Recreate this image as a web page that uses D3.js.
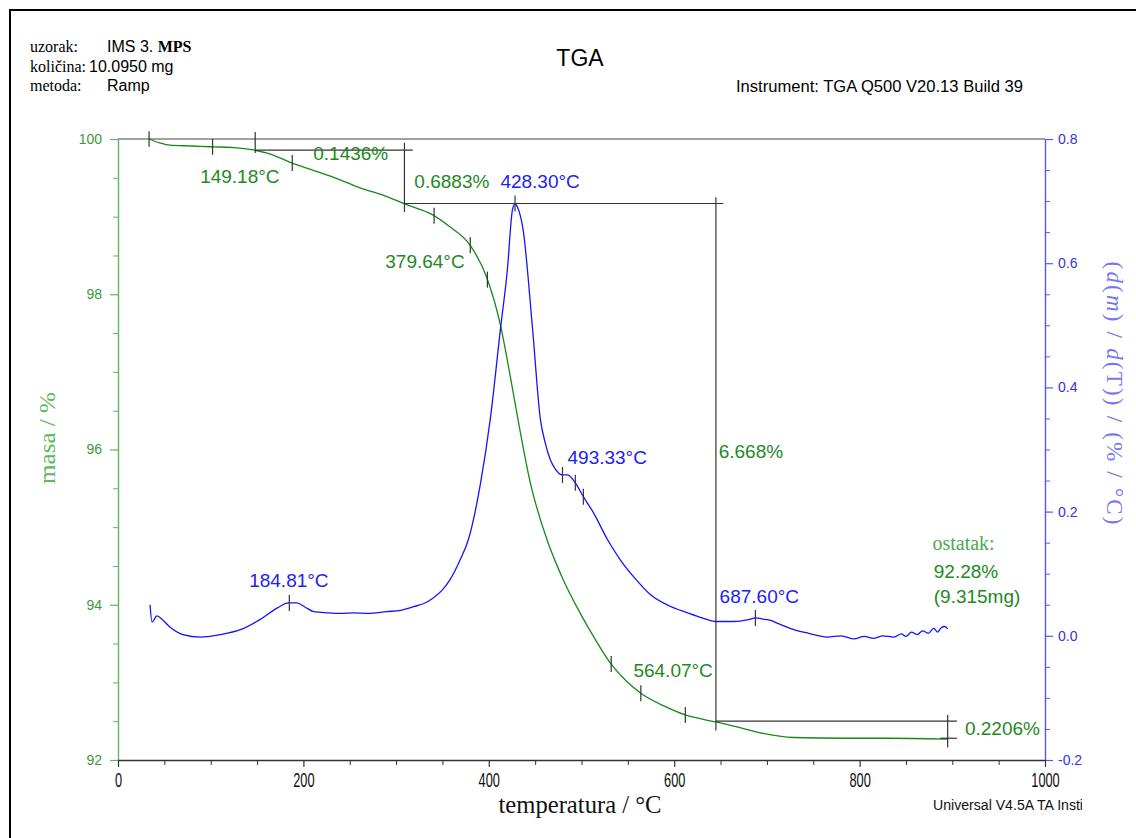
<!DOCTYPE html>
<html><head><meta charset="utf-8">
<script src="https://cdn.jsdelivr.net/npm/d3@7"></script>
<style>body{margin:0;background:#fff}</style>
</head><body>
<script>
// ---------- data ----------
const tgaTemp = [33.5, 45, 56, 80, 99, 125, 146, 160, 170, 188, 210, 232, 261, 285, 310, 340, 358, 380, 398, 413, 422, 431, 445, 463, 477, 500, 515, 531, 548, 564, 590, 612, 645, 670, 693, 729, 780, 830, 895];
const tgaMass = [100.0, 99.95, 99.92, 99.91, 99.90, 99.89, 99.86, 99.82, 99.78, 99.69, 99.60, 99.51, 99.37, 99.28, 99.16, 99.02, 98.87, 98.63, 98.21, 97.58, 97.02, 96.42, 95.56, 94.83, 94.41, 93.86, 93.55, 93.25, 93.02, 92.86, 92.69, 92.58, 92.49, 92.42, 92.35, 92.29, 92.28, 92.28, 92.27];

const dtgTemp = [34.6, 36.7, 42, 48, 56, 70, 89, 110, 132, 153, 172, 184, 193, 202, 211, 226, 240, 254, 270, 290, 305, 319, 330, 340, 350, 358, 369, 378, 391, 401.7, 412.5, 420, 425.5, 428.3, 431, 437, 447, 455.7, 461, 466.5, 472, 479.5, 485, 493.5, 502, 513, 528, 542, 558, 574.5, 595, 614.5, 630, 645, 664, 680, 688, 695, 701, 715, 729, 745, 765, 780, 794, 805, 815, 825, 837, 845, 850, 856, 862, 868, 874, 880, 884, 888, 892, 895];
const dtgValue = [0.050, 0.022, 0.032, 0.026, 0.014, 0.002, -0.002, 0.002, 0.010, 0.026, 0.045, 0.053, 0.053, 0.046, 0.039, 0.037, 0.036, 0.037, 0.036, 0.039, 0.041, 0.047, 0.052, 0.061, 0.074, 0.090, 0.122, 0.155, 0.245, 0.350, 0.493, 0.589, 0.686, 0.696, 0.690, 0.654, 0.498, 0.348, 0.310, 0.283, 0.268, 0.259, 0.259, 0.246, 0.224, 0.198, 0.155, 0.122, 0.092, 0.066, 0.048, 0.037, 0.029, 0.023, 0.023, 0.026, 0.029, 0.027, 0.026, 0.018, 0.010, 0.004, -0.002, 0.000, -0.005, -0.001, -0.004, 0.000, -0.002, 0.003, -0.001, 0.006, 0.002, 0.008, 0.004, 0.012, 0.006, 0.013, 0.015, 0.011];

const xTicks = [0, 200, 400, 600, 800, 1000];
const massTicks = [92, 94, 96, 98, 100];
const derivTicks = [-0.2, 0.0, 0.2, 0.4, 0.6, 0.8];

// step-analysis annotations (data units)
const stepH = [[148, 318, 99.857], [309, 653, 99.169], [645, 905, 92.501], [887, 905, 92.28]];
const stepV = [[33.5, 100.10, 99.90], [148, 100.09, 99.82], [309, 99.95, 99.06], [645, 99.25, 92.38], [895, 92.58, 92.16]];
const greenMarkers = [102, 188, 341, 380, 398.5, 532, 564, 612];
const blueMarkers = [184.81, 428.30, 479.5, 493.33, 502, 687.60];

const massLabels = [
  ["149.18°C", 88.6, 99.433], ["0.1436%", 210.6, 99.73], ["0.6883%", 319.7, 99.37],
  ["379.64°C", 288.3, 98.34], ["6.668%", 648, 95.89], ["564.07°C", 556, 93.07],
  ["0.2206%", 913.6, 92.32], ["92.28%", 880, 94.34], ["(9.315mg)", 880, 94.02]
];
const derivLabels = [
  ["428.30°C", 412.5, 0.7211], ["493.33°C", 484.9, 0.2766],
  ["184.81°C", 141.5, 0.0786], ["687.60°C", 649, 0.0528]
];

// ---------- drawing ----------
const W = 1136, H = 838;
const SANS = "'Liberation Sans', Arial, sans-serif";
const SERIF = "'Liberation Serif', 'Times New Roman', serif";

const svg = d3.select("body").append("svg").attr("width", W).attr("height", H)
  .style("font-family", SANS);

const x = d3.scaleLinear().domain([0, 1000]).range([118, 1045]);
const yM = d3.scaleLinear().domain([92, 100]).range([760, 139]);
const yD = d3.scaleLinear().domain([-0.2, 0.8]).range([760, 139]);

// outer frame
svg.append("rect").attr("x", 10).attr("y", 10).attr("width", 1150).attr("height", 850)
  .attr("fill", "none").attr("stroke", "#000").attr("stroke-width", 2);

// header
const hdr = [["uzorak:", 52], ["količina:", 72], ["metoda:", 91]];
hdr.forEach(([t, yy]) => svg.append("text").attr("x", 30).attr("y", yy)
  .style("font-family", SERIF).style("font-size", "16px").text(t));
const l1 = svg.append("text").attr("x", 107).attr("y", 52).style("font-size", "16px");
l1.append("tspan").text("IMS 3. ");
l1.append("tspan").style("font-family", SERIF).style("font-weight", "bold").text("MPS");
svg.append("text").attr("x", 89).attr("y", 72).style("font-size", "16px").text("10.0950 mg");
svg.append("text").attr("x", 107).attr("y", 91).style("font-size", "16px").text("Ramp");
svg.append("text").attr("x", 580).attr("y", 66).attr("text-anchor", "middle")
  .style("font-size", "23px").text("TGA");
svg.append("text").attr("x", 736).attr("y", 92).style("font-size", "16px")
  .attr("textLength", 287).attr("lengthAdjust", "spacingAndGlyphs")
  .text("Instrument: TGA Q500 V20.13 Build 39");

// top frame line (100 %)
svg.append("line").attr("x1", x(0)).attr("x2", x(1000)).attr("y1", yM(100)).attr("y2", yM(100))
  .attr("stroke", "#444").attr("stroke-width", 1.2);

// axes
function styleAxis(g, lineColor, textColor, size) {
  g.select(".domain").attr("stroke", lineColor).attr("stroke-width", 1.4);
  g.selectAll(".tick line").attr("stroke", lineColor).attr("stroke-width", 1.2);
  g.selectAll("text").attr("fill", textColor).style("font-family", SANS).style("font-size", size);
}
// left
const gl = svg.append("g").attr("transform", `translate(${x(0)},0)`)
  .call(d3.axisLeft(yM).tickValues(massTicks).tickSize(8).tickSizeOuter(0).tickPadding(8).tickFormat(d3.format("d")));
styleAxis(gl, "#5cb85c", "#3a9a3a", "14px");
svg.append("g").attr("transform", `translate(${x(0)},0)`)
  .call(d3.axisLeft(yM).tickValues(d3.range(92.5, 100, 0.5).filter(v => v % 2 !== 0)).tickSize(5).tickFormat(""))
  .call(g => { g.select(".domain").remove(); g.selectAll("line").attr("stroke", "#5cb85c"); });
// right
const gr = svg.append("g").attr("transform", `translate(${x(1000)},0)`)
  .call(d3.axisRight(yD).tickValues(derivTicks).tickSize(8).tickSizeOuter(0).tickPadding(5).tickFormat(d => d.toFixed(1)));
styleAxis(gr, "#5555ff", "#3333dd", "14px");
svg.append("g").attr("transform", `translate(${x(1000)},0)`)
  .call(d3.axisRight(yD).tickValues(d3.range(-0.15, 0.8, 0.05).filter(v => Math.abs(Math.round(v * 100) % 20) !== 0)).tickSize(5).tickFormat(""))
  .call(g => { g.select(".domain").remove(); g.selectAll("line").attr("stroke", "#5555ff"); });
// bottom
const gb = svg.append("g").attr("transform", `translate(0,${yM(92)})`)
  .call(d3.axisBottom(x).tickValues(xTicks).tickSize(7).tickSizeOuter(0).tickPadding(4).tickFormat(d3.format("d")));
styleAxis(gb, "#333", "#111", "16px");
gb.selectAll(".tick text").attr("transform", "scale(0.8,1.22)");
svg.append("g").attr("transform", `translate(0,${yM(92)})`)
  .call(d3.axisBottom(x).tickValues(d3.range(50, 1000, 50).filter(v => v % 200 !== 0)).tickSize(5).tickFormat(""))
  .call(g => { g.select(".domain").remove(); g.selectAll("line").attr("stroke", "#333"); });

// axis titles
svg.append("text").attr("transform", "translate(55,438) rotate(-90)").attr("text-anchor", "middle")
  .style("font-family", SERIF).style("font-size", "23px").attr("fill", "#5cb85c")
  .attr("textLength", 92).attr("lengthAdjust", "spacingAndGlyphs").text("masa / %");
svg.append("text").attr("x", 580).attr("y", 813).attr("text-anchor", "middle")
  .style("font-family", SERIF).style("font-size", "26px").attr("fill", "#111")
  .attr("textLength", 163).attr("lengthAdjust", "spacingAndGlyphs").text("temperatura / °C");
const rt = svg.append("text").attr("transform", "translate(1107,393) rotate(90)").attr("text-anchor", "middle")
  .style("font-family", SERIF).style("font-size", "23px").attr("fill", "#7777ee")
  .attr("textLength", 263).attr("lengthAdjust", "spacing");
[["(", 0], ["d", 1], ["(", 0], ["m", 1], [") / ", 0], ["d", 1], ["(", 0], ["T", 0], [")) / (% / °C)", 0]]
  .forEach(([t, it]) => rt.append("tspan").style("font-style", it ? "italic" : "normal").text(t));

// curves
const lineM = d3.line().x((d, i) => x(tgaTemp[i])).y(d => yM(d)).curve(d3.curveMonotoneX);
svg.append("path").attr("d", lineM(tgaMass)).attr("fill", "none").attr("stroke", "#168a16").attr("stroke-width", 1.3);
const lineD = d3.line().x((d, i) => x(dtgTemp[i])).y(d => yD(d)).curve(d3.curveMonotoneX);
svg.append("path").attr("d", lineD(dtgValue)).attr("fill", "none").attr("stroke", "#1414ff").attr("stroke-width", 1.3);

// step annotation lines
const ann = svg.append("g").attr("stroke", "#333").attr("stroke-width", 1.2);
stepH.forEach(([t1, t2, m]) => ann.append("line").attr("x1", x(t1)).attr("x2", x(t2)).attr("y1", yM(m)).attr("y2", yM(m)));
stepV.forEach(([t, m1, m2]) => ann.append("line").attr("x1", x(t)).attr("x2", x(t)).attr("y1", yM(m1)).attr("y2", yM(m2)));

function interp(ts, vs, t) {
  const i = Math.max(1, Math.min(ts.length - 1, d3.bisectRight(ts, t)));
  const f = (t - ts[i - 1]) / (ts[i] - ts[i - 1]);
  return vs[i - 1] + f * (vs[i] - vs[i - 1]);
}
greenMarkers.forEach(t => {
  const yy = yM(interp(tgaTemp, tgaMass, t));
  ann.append("line").attr("x1", x(t)).attr("x2", x(t)).attr("y1", yy - 8).attr("y2", yy + 8);
});
blueMarkers.forEach(t => {
  const yy = yD(interp(dtgTemp, dtgValue, t));
  ann.append("line").attr("x1", x(t)).attr("x2", x(t)).attr("y1", yy - 8).attr("y2", yy + 8);
});

// labels
massLabels.forEach(([t, tx, m]) => svg.append("text").attr("x", x(tx)).attr("y", yM(m))
  .style("font-size", "19px").attr("fill", "#1e8a1e").text(t));
derivLabels.forEach(([t, tx, v]) => svg.append("text").attr("x", x(tx)).attr("y", yD(v))
  .style("font-size", "19px").attr("fill", "#2222ee").text(t));
svg.append("text").attr("x", x(878.6)).attr("y", yM(94.71)).style("font-family", SERIF)
  .style("font-size", "20px").attr("fill", "#4ea84e").text("ostatak:");

// footer
svg.append("text").attr("x", 933).attr("y", 810).style("font-size", "14px")
  .attr("fill", "#111").attr("textLength", 150).attr("lengthAdjust", "spacingAndGlyphs").text("Universal V4.5A TA Insti");
// right-bottom clipping as in the original picture
svg.append("rect").attr("x", 1082).attr("y", 752).attr("width", 60).attr("height", 90).attr("fill", "#fff");
</script>
</body></html>
